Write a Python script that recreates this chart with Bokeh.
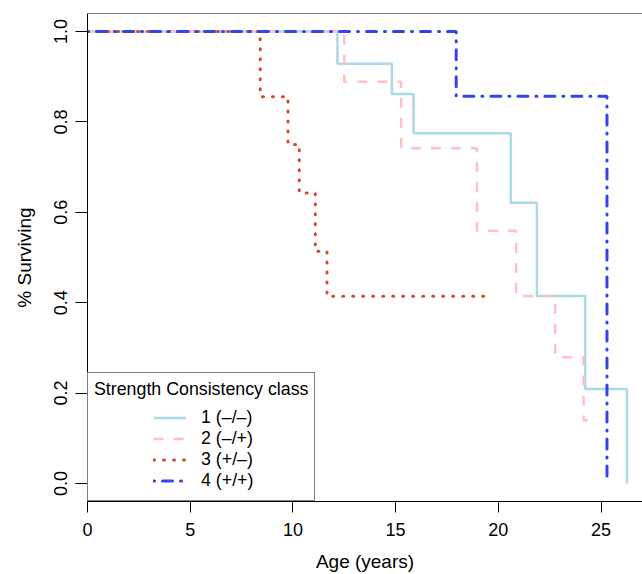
from bokeh.plotting import figure
from bokeh.models import Range1d, FixedTicker, Legend, LegendItem, Span
from bokeh.embed import file_html
from bokeh.resources import INLINE

# ---- data (Kaplan-Meier style survival steps) ----
class1_time = [0.0, 12.17, 14.82, 15.87, 20.61, 21.88, 24.23, 26.26]
class1_surv = [1.0, 0.929, 0.862, 0.775, 0.621, 0.415, 0.209, 0.0]

class2_time = [0.0, 12.50, 15.27, 18.96, 20.87, 22.77, 24.15, 24.35]
class2_surv = [1.0, 0.889, 0.742, 0.559, 0.415, 0.279, 0.139, 0.139]

class3_time = [0.0, 8.41, 9.76, 10.31, 11.09, 11.66, 19.51]
class3_surv = [1.0, 0.856, 0.750, 0.643, 0.514, 0.414, 0.414]

class4_time = [0.0, 17.95, 25.29]
class4_surv = [1.0, 0.857, 0.0]

class_labels = ["1 (\u2013/\u2013)", "2 (\u2013/+)", "3 (+/\u2013)", "4 (+/+)"]
legend_title = "Strength Consistency class"

x_ticks = [0, 5, 10, 15, 20, 25]
y_ticks = [0.0, 0.2, 0.4, 0.6, 0.8, 1.0]
y_tick_labels = ["0.0", "0.2", "0.4", "0.6", "0.8", "1.0"]

FONT = "Liberation Sans"

p = figure(width=642, height=574,
           x_range=Range1d(0, 27.02), y_range=Range1d(-0.04, 1.04),
           output_backend="svg", toolbar_location=None,
           min_border_left=87, min_border_right=0,
           min_border_top=13, min_border_bottom=72)
p.outline_line_color = None
p.grid.visible = False

# top edge of the box
p.add_layout(Span(location=1.04, dimension="width", line_color="black", line_width=1))

r1 = p.step(class1_time, class1_surv, mode="after", line_color="lightblue", line_width=2.5)
r2 = p.step(class2_time, class2_surv, mode="after", line_color="pink", line_width=2.5,
            line_dash="10 10")
r3 = p.step(class3_time, class3_surv, mode="after", line_color="#d9472f", line_width=3,
            line_dash="1 9", line_cap="round")
r4 = p.step(class4_time, class4_surv, mode="after", line_color="#3344ee", line_width=3,
            line_dash="1 8 10 8", line_cap="round")

# axes
p.xaxis.ticker = FixedTicker(ticks=x_ticks)
p.yaxis.ticker = FixedTicker(ticks=y_ticks)
p.yaxis.major_label_overrides = {t: s for t, s in zip(y_ticks, y_tick_labels)}
p.xaxis.axis_label = "Age (years)"
p.yaxis.axis_label = "% Surviving"
for ax in p.axis:
    ax.axis_line_color = "black"
    ax.major_tick_line_color = "black"
    ax.minor_tick_line_color = None
    ax.major_tick_in = 0
    ax.major_label_text_font = FONT
    ax.major_label_text_font_size = "18px"
    ax.major_label_text_color = "black"
    ax.axis_label_text_font = FONT
    ax.axis_label_text_font_size = "19px"
    ax.axis_label_text_font_style = "normal"
    ax.axis_label_text_color = "black"
p.xaxis.major_tick_out = 11
p.xaxis.major_label_standoff = 10
p.xaxis.axis_label_standoff = 12
p.yaxis.major_tick_out = 12
p.yaxis.major_label_standoff = 8
p.yaxis.axis_label_standoff = 17
p.yaxis.major_label_orientation = "vertical"

# legend box with title (its single entry is blank and only reserves room)
blank = p.line(x=[], y=[], line_alpha=0)
legend_box = Legend(items=[LegendItem(label=" ", renderers=[blank])],
                    title=legend_title, location=(0, 0), margin=0, padding=6,
                    spacing=0, label_height=84, glyph_height=20, glyph_width=20,
                    label_text_font=FONT, label_text_font_size="17.8px",
                    title_text_font=FONT, title_text_font_size="17.8px",
                    title_text_font_style="normal", title_text_color="black",
                    title_standoff=10,
                    border_line_color="black", border_line_width=1,
                    background_fill_color="white", background_fill_alpha=1.0)
p.add_layout(legend_box)

legend_items = Legend(items=[LegendItem(label=lab, renderers=[r])
                             for lab, r in zip(class_labels, [r1, r2, r3, r4])],
                      location=(66, 10), margin=0, padding=0, spacing=0,
                      label_height=21, glyph_height=21, glyph_width=33,
                      label_standoff=15,
                      label_text_font=FONT, label_text_font_size="17.8px",
                      label_text_color="black",
                      border_line_alpha=0, background_fill_alpha=0)
p.add_layout(legend_items)

open("out.html", "w").write(file_html(p, INLINE))
